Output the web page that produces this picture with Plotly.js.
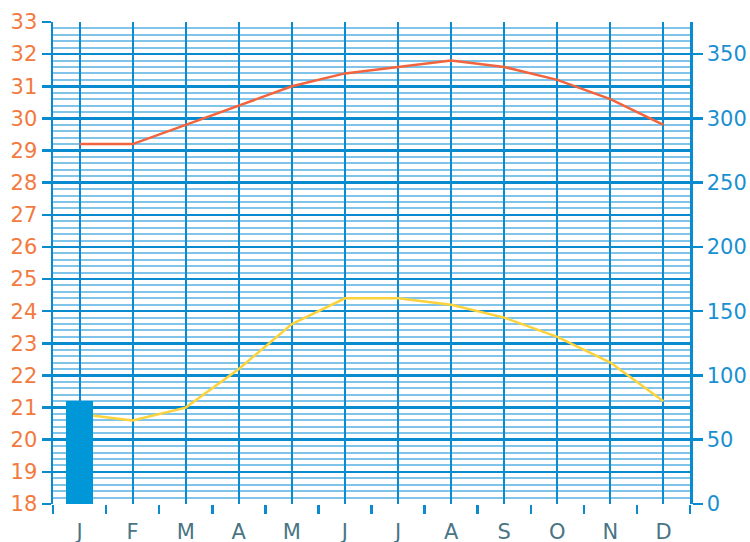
<!DOCTYPE html>
<html>
<head>
<meta charset="utf-8">
<script src="https://cdn.plot.ly/plotly-3.0.1.min.js"></script>
<style>html,body{margin:0;padding:0;background:#fff;}#chart{width:750px;height:542px;}</style>
</head>
<body>
<div id="chart"></div>
<script>
var monthLabels = ["J","F","M","A","M","J","J","A","S","O","N","D"];
var monthIndex = [0,1,2,3,4,5,6,7,8,9,10,11];
var monthBoundaries = [-0.5,0.5,1.5,2.5,3.5,4.5,5.5,6.5,7.5,8.5,9.5,10.5,11.5];
var precipitation = [80,0,0,0,0,0,0,0,0,0,0,0];
var tempMax = [29.2,29.2,29.8,30.4,31.0,31.4,31.6,31.8,31.6,31.2,30.6,29.8];
var tempMin = [20.8,20.6,21.0,22.2,23.6,24.4,24.4,24.2,23.8,23.2,22.4,21.2];
var tempTicks = [18,19,20,21,22,23,24,25,26,27,28,29,30,31,32,33];
var precipTicks = [0,50,100,150,200,250,300,350];

var dark = "#0a8bd0", light = "#80c4ea";
var font = "DejaVu Sans, sans-serif";

var traces = [
  {type:"bar", x:monthIndex, y:precipitation, width:0.5, xaxis:"x", yaxis:"y2",
   marker:{color:"#0097d8", line:{width:0}}, hoverinfo:"skip", showlegend:false},
  {type:"scatter", mode:"lines", x:monthIndex, y:tempMax, xaxis:"x", yaxis:"y",
   line:{color:"#f2643e", width:2.5}, showlegend:false},
  {type:"scatter", mode:"lines", x:monthIndex, y:tempMin, xaxis:"x", yaxis:"y",
   line:{color:"#fdd23a", width:2.5}, showlegend:false},
  {type:"scatter", mode:"lines", x:[monthBoundaries[0]], y:[null], xaxis:"x2", yaxis:"y",
   showlegend:false, hoverinfo:"skip"}
];

var layout = {
  width:750, height:542,
  margin:{l:53, r:60, t:22, b:38},
  paper_bgcolor:"#fff", plot_bgcolor:"#fff",
  showlegend:false,
  bargap:0,
  xaxis:{range:[-0.5,11.5], tickmode:"array", tickvals:monthIndex, ticktext:monthLabels,
    ticks:"outside", ticklen:9, tickcolor:"rgba(0,0,0,0)",
    showgrid:true, gridcolor:dark, gridwidth:2, zeroline:false, showline:false,
    tickfont:{family:font, size:21, color:"#4a7585"}, fixedrange:true},
  xaxis2:{range:[-0.5,11.5], overlaying:"x", anchor:"y", side:"bottom",
    tickmode:"array", tickvals:monthBoundaries, showticklabels:false,
    ticks:"outside", ticklen:9, tickwidth:2.5, tickcolor:dark,
    showgrid:false, zeroline:false, showline:false},
  yaxis:{range:[18,33], tickmode:"array", tickvals:tempTicks,
    ticks:"outside", ticklen:9, tickwidth:2.5, tickcolor:dark,
    showgrid:true, gridcolor:dark, gridwidth:2.5, zeroline:false,
    showline:true, linecolor:dark, linewidth:2.5,
    minor:{dtick:0.2, tick0:18, showgrid:true, gridcolor:light, gridwidth:2, ticks:""},
    tickfont:{family:font, size:21, color:"#f27a3e"}},
  yaxis2:{range:[0,375], overlaying:"y", side:"right", anchor:"x",
    tickmode:"array", tickvals:precipTicks,
    ticks:"outside", ticklen:10, tickwidth:2.5, tickcolor:dark,
    showgrid:false, zeroline:false, showline:true, linecolor:dark, linewidth:2.5,
    tickfont:{family:font, size:21, color:"#1a90d2"}}
};

Plotly.newPlot("chart", traces, layout, {staticPlot:true, displayModeBar:false});
</script>
</body>
</html>
